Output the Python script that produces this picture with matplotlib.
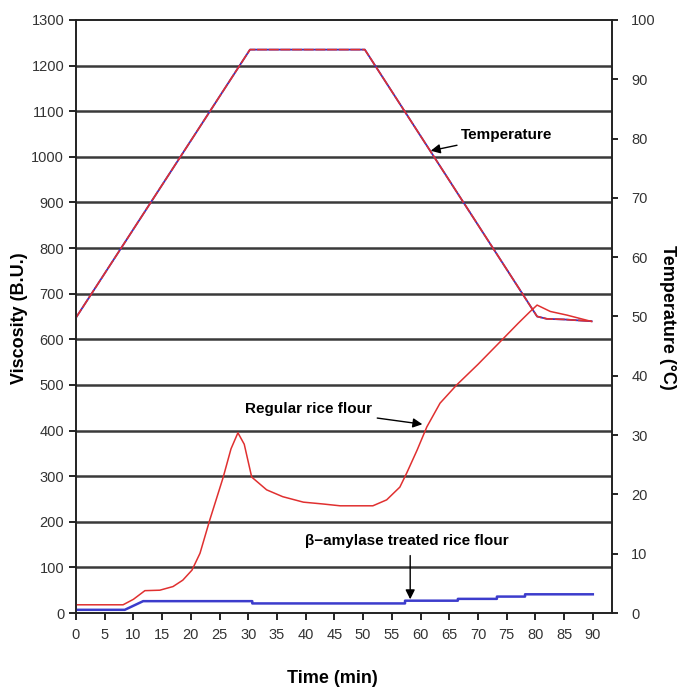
import matplotlib.pyplot as plt
from matplotlib import font_manager

# === DATA ===
time_temp = [0, 30.3, 50.3, 80.3, 82, 85, 89.8]
temperature = [49.8, 95.0, 95.0, 50.0, 49.6, 49.5, 49.2]

time_regular = [0, 8.2, 10, 12, 14.6, 16.9, 18.6, 20.2, 21.6, 23.3, 25.6, 27, 28.2,
                29.3, 30.6, 33.2, 36, 39.6, 43, 46, 51.7, 54.1, 56.4, 57.6, 59.4,
                61.1, 63.4, 66.3, 70, 73.9, 77, 79.1, 80.3, 82.6, 85.5, 89.8]
visc_regular = [18, 18, 30, 49, 50, 58, 72, 94, 131, 204, 296, 360, 395,
                370, 298, 270, 255, 243, 239, 235, 235, 248, 276, 307, 357,
                408, 460, 500, 545, 595, 635, 661, 675, 661, 653, 639]

time_treated = [0, 8.5, 11.7, 30.7, 30.7, 57.3, 57.3, 66.5, 66.5, 73.3, 73.3,
                78.2, 78.2, 90]
visc_treated = [7, 7, 26, 26, 21, 21, 27, 27, 31, 31, 36, 36, 41, 41]

x_ticks = list(range(0, 95, 5))
left_ticks = list(range(0, 1400, 100))
right_ticks = list(range(0, 110, 10))

# === FONTS ===
names = {f.name for f in font_manager.fontManager.ttflist}
narrow = 'Liberation Sans Narrow' if 'Liberation Sans Narrow' in names else 'Liberation Sans'
plt.rcParams['font.family'] = ['Liberation Sans', 'DejaVu Sans']

# === DRAW ===
fig = plt.figure(figsize=(6.82, 6.88), dpi=100)
ax = fig.add_axes([0.1114, 0.109, 0.7856, 0.862])

for v in left_ticks[1:-1]:
    ax.axhline(v, color='#3a3a3a', lw=1.8, zorder=1)

# temperature on the viscosity scale (100 C == 1300 B.U.)
temp_scaled = [t * 13 for t in temperature]
ax.plot(time_temp, temp_scaled, color='#3030c8', lw=1.3, zorder=3)
ax.plot(time_temp, temp_scaled, color='#e03030', lw=1.2, zorder=4,
        dashes=(6, 1))
ax.plot(time_regular, visc_regular, color='#e03030', lw=1.1, zorder=4)
ax.plot(time_treated, visc_treated, color='#3c3ccc', lw=1.8, zorder=3)

ax.set_xlim(0, 93.3)
ax.set_ylim(0, 1300)
ax.set_xticks(x_ticks)
ax.set_yticks(left_ticks)
ax.tick_params(axis='both', direction='out', length=5, width=1.2, labelsize=10.5,
               labelcolor='#333333')
ax.tick_params(axis='x', pad=6)
for lbl in ax.get_xticklabels() + ax.get_yticklabels():
    lbl.set_fontfamily(narrow)
for s in ax.spines.values():
    s.set_linewidth(1.2)
    s.set_color('#222222')

ax2 = ax.twinx()
ax2.set_ylim(0, 100)
ax2.set_yticks(right_ticks)
ax2.tick_params(axis='y', direction='out', length=4, width=1.2, labelsize=10.5, pad=10,
                labelcolor='#333333')
for lbl in ax2.get_yticklabels():
    lbl.set_fontfamily(narrow)
for s in ax2.spines.values():
    s.set_linewidth(1.2)
    s.set_color('#222222')

fig.text(0.029, 0.538, 'Viscosity (B.U.)', fontsize=13, fontweight='bold',
         rotation=90, ha='center', va='center')
fig.text(0.979, 0.538, 'Temperature (\u00b0C)', fontsize=13, fontweight='bold',
         rotation=-90, ha='center', va='center')
fig.text(0.488, 0.0145, 'Time (min)', fontsize=13, fontweight='bold',
         ha='center', va='center')

# === ANNOTATIONS ===
arrow = dict(arrowstyle='-|>', color='black', lw=1.0, mutation_scale=14)
ax.annotate('Temperature', xy=(61.3, 1012), xytext=(67, 1048),
            fontsize=11, fontweight='bold', va='center', ha='left', arrowprops=arrow)
ax.annotate('Regular rice flour', xy=(60.8, 413), xytext=(51.5, 448),
            fontsize=11, fontweight='bold', va='center', ha='right', arrowprops=arrow)
ax.annotate('', xy=(58.2, 24), xytext=(58.2, 132), arrowprops=arrow)
ax.text(57.6, 158, '\u03b2\u2212amylase treated rice flour', fontsize=11, fontweight='bold',
        va='center', ha='center')

fig.savefig('out.png', dpi=100)
